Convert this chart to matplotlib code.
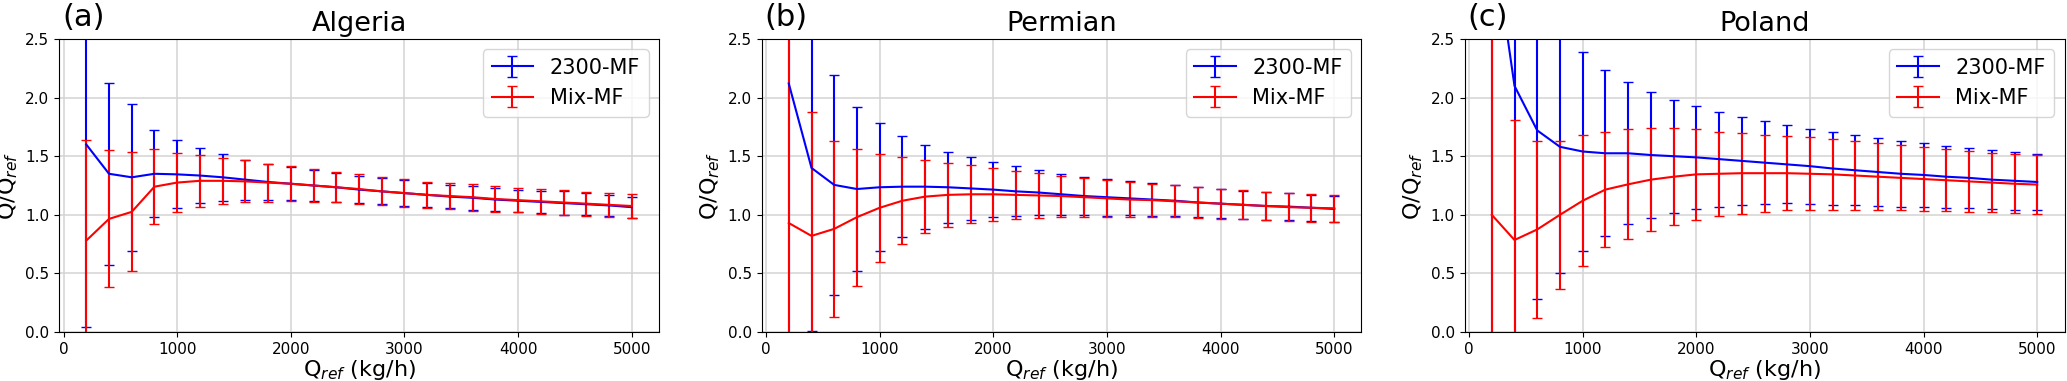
import matplotlib
matplotlib.use("Agg")
from matplotlib import pyplot as plt

q_ref = [200, 400, 600, 800, 1000, 1200, 1400, 1600, 1800, 2000, 2200, 2400, 2600,
         2800, 3000, 3200, 3400, 3600, 3800, 4000, 4200, 4400, 4600, 4800, 5000]

# (a) Algeria
alg_2300_mean = [1.60, 1.35, 1.32, 1.35, 1.345, 1.335, 1.32, 1.30, 1.28, 1.265, 1.25, 1.235, 1.215,
                 1.20, 1.185, 1.17, 1.155, 1.145, 1.13, 1.12, 1.11, 1.10, 1.09, 1.08, 1.065]
alg_2300_err = [1.56, 0.775, 0.625, 0.37, 0.29, 0.235, 0.20, 0.17, 0.15, 0.14, 0.13, 0.125, 0.115,
                0.11, 0.11, 0.105, 0.10, 0.10, 0.10, 0.095, 0.095, 0.10, 0.095, 0.09, 0.09]
alg_mix_mean = [0.78, 0.965, 1.025, 1.24, 1.275, 1.29, 1.29, 1.285, 1.275, 1.265, 1.25, 1.235, 1.22,
                1.20, 1.185, 1.17, 1.16, 1.15, 1.135, 1.125, 1.115, 1.105, 1.095, 1.085, 1.075]
alg_mix_err = [0.86, 0.585, 0.507, 0.32, 0.255, 0.222, 0.197, 0.18, 0.162, 0.148, 0.14, 0.13, 0.125,
               0.12, 0.118, 0.114, 0.113, 0.114, 0.108, 0.105, 0.107, 0.104, 0.101, 0.102, 0.103]

# (b) Permian
per_2300_mean = [2.12, 1.40, 1.255, 1.22, 1.235, 1.24, 1.24, 1.235, 1.225, 1.215, 1.20, 1.19, 1.175,
                 1.16, 1.15, 1.14, 1.13, 1.12, 1.105, 1.095, 1.085, 1.075, 1.07, 1.06, 1.05]
per_2300_err = [2.40, 1.39, 0.94, 0.70, 0.545, 0.43, 0.357, 0.305, 0.268, 0.237, 0.214, 0.195, 0.177,
                0.165, 0.157, 0.145, 0.138, 0.133, 0.128, 0.125, 0.12, 0.117, 0.113, 0.11, 0.108]
per_mix_mean = [0.93, 0.82, 0.88, 0.98, 1.06, 1.12, 1.155, 1.17, 1.175, 1.175, 1.17, 1.165, 1.16,
                1.15, 1.14, 1.13, 1.125, 1.115, 1.105, 1.095, 1.085, 1.075, 1.065, 1.06, 1.055]
per_mix_err = [2.0, 1.06, 0.75, 0.585, 0.46, 0.373, 0.31, 0.275, 0.248, 0.225, 0.205, 0.19, 0.175,
               0.165, 0.157, 0.148, 0.142, 0.138, 0.132, 0.128, 0.125, 0.122, 0.12, 0.118, 0.114]

# (c) Poland
pol_2300_mean = [3.45, 2.10, 1.72, 1.58, 1.54, 1.525, 1.525, 1.51, 1.50, 1.49, 1.475, 1.46, 1.445,
                 1.43, 1.415, 1.395, 1.38, 1.365, 1.35, 1.34, 1.325, 1.315, 1.30, 1.29, 1.28]
pol_2300_err = [3.6, 2.3, 1.44, 1.08, 0.85, 0.71, 0.605, 0.54, 0.483, 0.44, 0.405, 0.375, 0.353,
                0.333, 0.32, 0.31, 0.30, 0.29, 0.28, 0.27, 0.263, 0.257, 0.25, 0.246, 0.24]
pol_mix_mean = [1.0, 0.785, 0.875, 1.0, 1.12, 1.215, 1.26, 1.30, 1.325, 1.345, 1.35, 1.355, 1.355,
                1.355, 1.35, 1.345, 1.335, 1.325, 1.315, 1.305, 1.295, 1.285, 1.275, 1.265, 1.258]
pol_mix_err = [2.0, 1.025, 0.757, 0.63, 0.56, 0.493, 0.47, 0.44, 0.415, 0.39, 0.36, 0.345, 0.33,
               0.317, 0.31, 0.302, 0.293, 0.285, 0.278, 0.273, 0.266, 0.26, 0.252, 0.25, 0.25]

panels = [
    ("(a)", "Algeria", alg_2300_mean, alg_2300_err, alg_mix_mean, alg_mix_err),
    ("(b)", "Permian", per_2300_mean, per_2300_err, per_mix_mean, per_mix_err),
    ("(c)", "Poland", pol_2300_mean, pol_2300_err, pol_mix_mean, pol_mix_err),
]

fig = plt.figure(figsize=(20.67, 3.81), dpi=100)
lefts = [59 / 2067, 761.5 / 2067, 1464.5 / 2067]

for left, (tag, title, m1, e1, m2, e2) in zip(lefts, panels):
    ax = fig.add_axes([left, 49 / 381, 600 / 2067, 293 / 381])
    ax.errorbar(q_ref, m1, yerr=e1, color="blue", lw=1.5, capsize=3.5, label="2300-MF")
    ax.errorbar(q_ref, m2, yerr=e2, color="red", lw=1.5, capsize=3.5, label="Mix-MF")
    ax.set_ylim(0, 2.5)
    ax.set_xlim(-40, 5240)
    ax.set_xticks([0, 1000, 2000, 3000, 4000, 5000])
    ax.set_yticks([0.0, 0.5, 1.0, 1.5, 2.0, 2.5])
    ax.tick_params(labelsize=11)
    ax.grid(True, color="#d3d3d3", lw=1.1)
    ax.set_axisbelow(True)
    ax.set_title(title, fontsize=19.5)
    ax.set_xlabel("Q$_{ref}$ (kg/h)", fontsize=16, labelpad=1)
    ax.set_ylabel("Q/Q$_{ref}$", fontsize=16)
    ax.text(0.005, 1.044, tag, transform=ax.transAxes, fontsize=22, va="baseline")
    ax.legend(loc="upper right", fontsize=15)

fig.savefig("out.png", dpi=100)
